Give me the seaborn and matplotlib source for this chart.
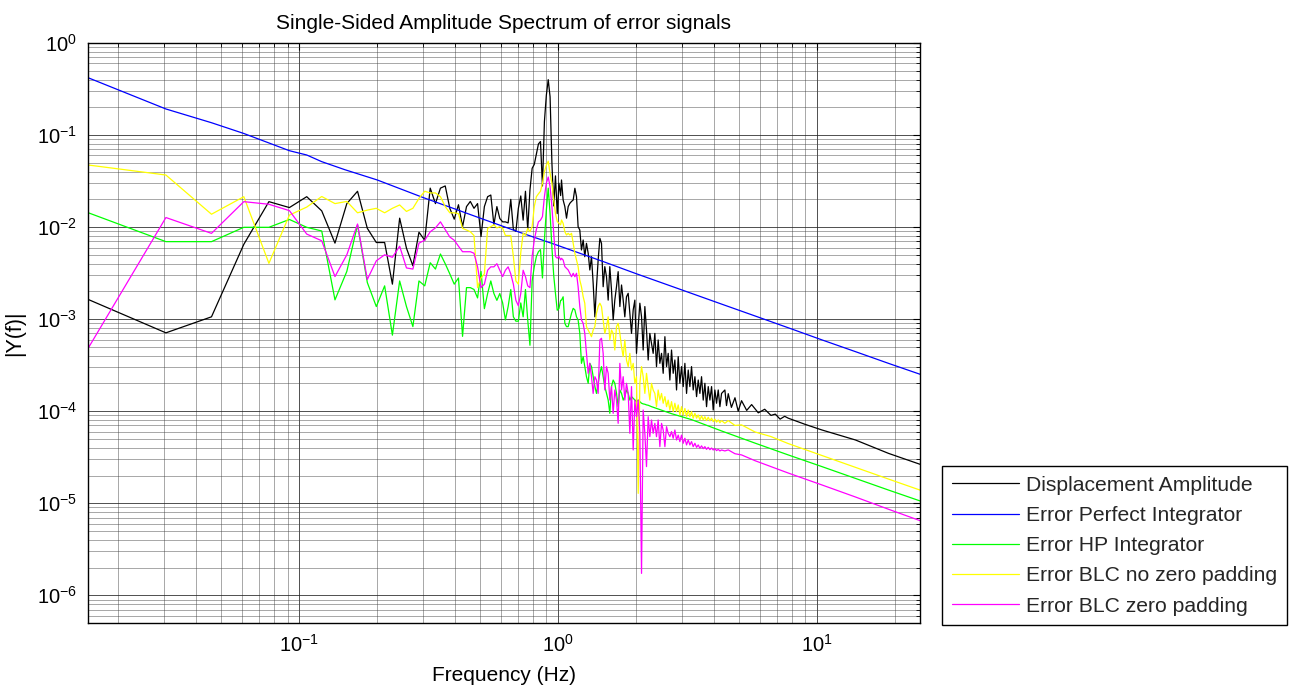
import numpy as np
import pandas as pd
import matplotlib
matplotlib.use("Agg")
import matplotlib.pyplot as plt
from matplotlib.ticker import FixedLocator, NullFormatter
import seaborn as sns

# ---------------- data ----------------
df_hz = 0.015253                      # frequency resolution (Hz)
bins_low = np.arange(1, 68)           # first FFT bins, drawn one by one

series_names = ["Displacement Amplitude", "Error Perfect Integrator",
                "Error HP Integrator", "Error BLC no zero padding",
                "Error BLC zero padding"]
series_colors = ["#000000", "#0000ff", "#00ff00", "#ffff00", "#ff00ff"]

x_major_ticks = [0.1, 1.0, 10.0]
y_major_ticks = [1e-6, 1e-5, 1e-4, 1e-3, 1e-2, 1e-1, 1.0]

# dense middle band (Hz)
freq_mid = [1.030, 1.045, 1.061, 1.077, 1.093, 1.109, 1.126, 1.143, 1.160, 1.177,
            1.194, 1.212, 1.230, 1.249, 1.267, 1.286, 1.306, 1.325, 1.345, 1.365,
            1.386, 1.406, 1.427, 1.449, 1.470, 1.492, 1.514, 1.537, 1.560, 1.583,
            1.607, 1.631, 1.655, 1.680, 1.705, 1.731, 1.757, 1.783, 1.809, 1.836,
            1.864, 1.892, 1.920, 1.949, 1.978, 2.007, 2.038, 2.068, 2.099, 2.130,
            2.162, 2.194, 2.227, 2.260, 2.294, 2.328, 2.363, 2.398, 2.434, 2.471,
            2.508, 2.545, 2.584, 2.622, 2.661, 2.701, 2.741, 2.782, 2.824, 2.866,
            2.909, 2.952, 2.996, 3.041, 3.087, 3.133, 3.180, 3.227, 3.275, 3.324,
            3.375, 3.425, 3.476, 3.528, 3.580, 3.634, 3.688, 3.743, 3.800, 3.856,
            3.914, 3.972, 4.031, 4.091, 4.153, 4.215, 4.278]

# Displacement Amplitude
disp_low = [1.64e-3, 7.1e-4, 1.06e-3, 6.5e-3, 1.89e-2, 1.63e-2, 2.14e-2, 1.5e-2, 6.7e-3, 1.8e-2,
            2.45e-2, 9.7e-3, 6.8e-3, 6.8e-3, 2.4e-3, 1.25e-2, 5.9e-3, 3.8e-3, 8.8e-3, 7.2e-3,
            2.65e-2, 1.8e-2, 2.65e-2, 2.8e-2, 1.6e-2, 1.22e-2, 1.75e-2, 1.01e-2, 1.67e-2, 1.9e-2,
            1.6e-2, 1.8e-2, 7.9e-3, 1.67e-2, 2.14e-2, 2.23e-2, 1.06e-2, 1.67e-2, 1.24e-2, 1.14e-2,
            1.14e-2, 1.11e-2, 2.0e-2, 9.4e-3, 9.0e-3, 1.6e-2, 2.18e-2, 1.19e-2, 2.45e-2, 9.4e-3,
            2.53e-2, 4.35e-2, 4.8e-2, 6.2e-2, 8.0e-2, 8.5e-2, 2.8e-2, 1.4e-1, 2.7e-1, 4.0e-1,
            2.6e-1, 5.0e-2, 1.7e-2, 3.6e-2, 1.4e-2, 3.0e-2, 2.2e-2]
disp_mid = [0.0325, 0.0197, 0.0167, 0.0125, 0.0167, 0.0181, 0.019, 0.0197, 0.0264, 0.0214,
            0.0101, 0.0093, 0.00564, 0.00724, 0.00477, 0.00666, 0.00519, 0.00342, 0.00477, 0.00245,
            0.00106, 0.00225, 0.00439, 0.00755, 0.00666, 0.00225, 0.00372, 0.00289, 0.00161, 0.00372,
            0.00207, 0.00098, 0.00161, 0.00225, 0.00328, 0.00137, 0.00235, 0.00161, 0.00106, 0.00175,
            0.00191, 0.00116, 0.00070, 0.00126, 0.00161, 0.000425, 0.000829, 0.00149, 0.00106, 0.000462,
            0.00137, 0.000762, 0.00036, 0.00070, 0.000546, 0.000425, 0.00070, 0.000305, 0.000594, 0.000331,
            0.000425, 0.000258, 0.000645, 0.000305, 0.000425, 0.000218, 0.000462, 0.000258, 0.00036, 0.00017,
            0.000391, 0.000201, 0.000305, 0.000185, 0.000331, 0.000156, 0.00028, 0.000185, 0.000305, 0.00017,
            0.000237, 0.000144, 0.000218, 0.000156, 0.000237, 0.000132, 0.000201, 0.000112, 0.000185, 0.000132,
            0.000185, 0.000103, 0.00017, 0.000122, 0.00017, 0.000112, 0.000156]
disp_tail_f = [4.406, 4.470, 4.540, 4.67, 4.82, 4.96, 5.11, 5.35, 5.59, 5.93, 6.28,
               6.64, 6.9, 7.2, 7.5, 7.74, 8.99, 10.45, 14.07, 18.9, 25.0]
disp_tail = [1.70e-4, 1.15e-4, 1.55e-4, 1.10e-4, 1.40e-4, 1.00e-4, 1.30e-4, 1.02e-4, 1.18e-4,
             9.6e-5, 1.05e-4, 9.0e-5, 9.3e-5, 8.2e-5, 8.8e-5, 8.4e-5, 7.2e-5, 6.25e-5,
             4.87e-5, 3.48e-5, 2.65e-5]

# Error Perfect Integrator
perf_f = [0.01525, 0.0305, 0.0458, 0.0610, 0.0763, 0.0915, 0.1068, 0.1220, 0.15, 0.2,
          0.3, 0.4, 0.5, 0.7, 1.0, 1.5, 2.0, 3.0, 4.27, 6.0, 8.0, 10.45, 14.0, 19.0, 25.0]
perf_v = [0.42, 0.192, 0.136, 0.104, 0.082, 0.0676, 0.0607, 0.0514, 0.042, 0.0325,
          0.021, 0.0157, 0.0125, 0.0089, 0.0063, 0.0042, 0.00312, 0.00208, 0.00146, 0.00104,
          0.00078, 0.000595, 0.000446, 0.000329, 0.000252]

# Error HP Integrator
hp_low = [0.01435, 0.00695, 0.00695, 0.00995, 0.00995, 0.0121, 0.00995, 0.00907, 0.00162, 0.0033,
          0.0106, 0.0025, 0.00137, 0.0023, 0.00067, 0.0026, 0.00137, 0.00083, 0.0026, 0.0023,
          0.0041, 0.0035, 0.0051, 0.0040, 0.0031, 0.0024, 0.0028, 0.00065, 0.0022, 0.0022,
          0.0021, 0.0017, 0.0033, 0.0013, 0.0019, 0.0026, 0.0019, 0.0016, 0.0019, 0.0015,
          0.00098, 0.00137, 0.0021, 0.00106, 0.00095, 0.00095, 0.0015, 0.00106, 0.0021, 0.00098,
          0.00052, 0.0026, 0.0037, 0.0048, 0.0054, 0.0057, 0.0028, 0.0072, 0.0153, 0.0265,
          0.0141, 0.0060, 0.0030, 0.0019, 0.00125, 0.0013, 0.0016]
hp_mid = [0.00161, 0.00175, 0.000901, 0.000829, 0.000829, 0.000979, 0.00116, 0.00131, 0.00126, 0.00106,
          0.000979, 0.00070, 0.000331, 0.000391, 0.000305, 0.000237, 0.000201, 0.000331, 0.000305, 0.000237,
          0.000185, 0.000156, 0.000201, 0.000258, 0.000305, 0.000237, 0.000185, 0.000156, 0.000132, 9.48e-5,
          0.000185, 0.000218, 0.000201, 0.000156, 0.000112, 0.00017, 0.000156, 0.000132, 0.000144, 0.00017,
          0.000156, 0.000132, 0.000144, 0.000138, 0.000132, 0.000127, 0.000132, 0.000127, 0.000122, 0.00012,
          0.000119, 0.000117, 0.000116, 0.000114, 0.000112]
hp_tail_f = [2.741, 3.275, 4.278, 5.76, 7.74, 10.45, 14.07, 18.9, 25.0]
hp_tail = [9.4e-5, 8.1e-5, 6.1e-5, 4.5e-5, 3.35e-5, 2.5e-5, 1.86e-5, 1.39e-5, 1.06e-5]

# Error BLC no zero padding
blc_low = [0.0473, 0.0368, 0.0138, 0.0214, 0.00404, 0.0135, 0.0165, 0.0215, 0.018, 0.019,
           0.0143, 0.0153, 0.016, 0.0143, 0.016, 0.0174, 0.0148, 0.016, 0.0205, 0.0245,
           0.0235, 0.0235, 0.0214, 0.0167, 0.0143, 0.0143, 0.014, 0.0097, 0.0093, 0.0089,
           0.0081, 0.0022, 0.0028, 0.0031, 0.0097, 0.0101, 0.0106, 0.0098, 0.0101, 0.0097,
           0.0081, 0.0081, 0.0081, 0.0048, 0.0026, 0.0024, 0.0053, 0.0086, 0.0081, 0.0097,
           0.0089, 0.0101, 0.0167, 0.0214, 0.023, 0.0245, 0.030, 0.040, 0.047, 0.052,
           0.0384, 0.030, 0.0197, 0.0141, 0.0115, 0.011, 0.0106]
blc_mid = [0.01195, 0.01099, 0.0089, 0.0082, 0.00856, 0.0082, 0.00856, 0.00666, 0.00519, 0.00439,
           0.00372, 0.00266, 0.00225, 0.00175, 0.00149, 0.000829, 0.000762, 0.00070, 0.000645, 0.000762,
           0.000829, 0.00116, 0.00137, 0.00149, 0.00137, 0.000979, 0.00070, 0.000829, 0.00106, 0.000594,
           0.000762, 0.00070, 0.000462, 0.000829, 0.000901, 0.00070, 0.000502, 0.000391, 0.000594, 0.00036,
           0.000305, 0.000425, 0.00028, 0.000331, 0.000201, 0.000237, 1.28e-5, 0.000201, 0.000305, 0.000237,
           0.000156, 0.000258, 0.000185, 0.000132, 0.000201, 0.00017, 0.000156, 0.000112, 0.00017, 0.000132,
           0.000156, 0.000122, 0.000144, 0.000112, 0.000132, 0.000103, 0.000127, 9.9e-5, 0.000122, 9.9e-5,
           0.000117, 9.1e-5, 0.000112, 9.1e-5, 0.000107, 8.72e-5, 0.000103, 8.72e-5, 9.9e-5, 8.4e-5,
           9.48e-5, 8.4e-5, 9.1e-5, 8.03e-5, 8.9e-5, 8.03e-5, 8.72e-5, 7.9e-5, 8.6e-5, 7.85e-5,
           8.4e-5, 7.7e-5, 8.2e-5, 7.6e-5, 8.03e-5, 7.5e-5, 7.9e-5]
blc_tail_f = [4.406, 4.54, 4.82, 5.11, 5.76, 6.64, 7.74, 10.45, 14.07, 18.9, 25.0]
blc_tail = [7.4e-5, 7.9e-5, 7.0e-5, 7.1e-5, 5.95e-5, 5.3e-5, 4.45e-5, 3.3e-5, 2.45e-5, 1.83e-5, 1.39e-5]

# Error BLC zero padding
blz_low = [4.8e-4, 0.0127, 0.00855, 0.0189, 0.0177, 0.0151, 0.0084, 0.0071, 0.0029, 0.0050,
           0.0108, 0.0027, 0.0043, 0.0050, 0.0047, 0.0062, 0.0036, 0.0035, 0.0067, 0.0072,
           0.0089, 0.0098, 0.0114, 0.0094, 0.0078, 0.0072, 0.0062, 0.0054, 0.0054, 0.0054,
           0.0052, 0.0037, 0.0022, 0.0024, 0.0034, 0.0037, 0.0037, 0.0040, 0.0034, 0.0029,
           0.0034, 0.0037, 0.0031, 0.0024, 0.0016, 0.0014, 0.0019, 0.0034, 0.0029, 0.0023,
           0.0022, 0.0048, 0.0072, 0.0094, 0.0114, 0.0119, 0.0130, 0.0214, 0.030, 0.035,
           0.0275, 0.0167, 0.0086, 0.0048, 0.0046, 0.0048, 0.0044]
blz_mid = [0.00458, 0.00439, 0.00372, 0.00357, 0.00342, 0.00315, 0.00289, 0.00315, 0.00289, 0.00315,
           0.00225, 0.00137, 0.000979, 0.000901, 0.00070, 0.000425, 0.000258, 0.000331, 0.000237, 0.000156,
           0.000237, 0.000218, 0.000156, 0.000594, 0.00062, 0.000425, 0.00017, 0.000305, 0.000258, 0.000132,
           0.000185, 9.48e-5, 0.00017, 0.000132, 7.38e-5, 0.000331, 0.00017, 0.000237, 0.000132, 0.000201,
           0.000156, 5.75e-5, 0.000185, 3.79e-5, 0.000132, 8.72e-5, 0.000132, 5.75e-5, 1.73e-6, 0.000103,
           5.75e-5, 2.5e-5, 8.72e-5, 5.29e-5, 8.03e-5, 5.75e-5, 7.38e-5, 5.29e-5, 8.03e-5, 4.12e-5,
           7.38e-5, 6.25e-5, 4.12e-5, 6.79e-5, 5.75e-5, 5.29e-5, 6.0e-5, 5.08e-5, 6.25e-5, 4.87e-5,
           5.5e-5, 4.67e-5, 5.5e-5, 4.48e-5, 5.08e-5, 4.3e-5, 4.87e-5, 4.3e-5, 4.67e-5, 4.12e-5,
           4.48e-5, 4.05e-5, 4.3e-5, 3.95e-5, 4.2e-5, 3.92e-5, 4.12e-5, 3.85e-5, 4.05e-5, 3.82e-5,
           3.98e-5, 3.79e-5, 3.92e-5, 3.73e-5, 3.85e-5, 3.7e-5, 3.79e-5]
blz_tail_f = [4.406, 4.54, 4.82, 5.11, 5.76, 7.74, 10.45, 14.07, 18.9, 25.0]
blz_tail = [3.7e-5, 3.8e-5, 3.45e-5, 3.35e-5, 2.9e-5, 2.13e-5, 1.58e-5, 1.17e-5, 8.6e-6, 6.47e-6]

# ---------------- assemble long-form table ----------------
freq_low = list(bins_low * df_hz)
parts = [
    (series_names[0], freq_low + freq_mid + disp_tail_f, disp_low + disp_mid + disp_tail),
    (series_names[1], perf_f, perf_v),
    (series_names[2], freq_low + freq_mid[:len(hp_mid)] + hp_tail_f, hp_low + hp_mid + hp_tail),
    (series_names[3], freq_low + freq_mid + blc_tail_f, blc_low + blc_mid + blc_tail),
    (series_names[4], freq_low + freq_mid + blz_tail_f, blz_low + blz_mid + blz_tail),
]
data = pd.concat([pd.DataFrame({"freq": f, "amp": v, "series": n}) for n, f, v in parts],
                 ignore_index=True)

# ---------------- style ----------------
sns.set_theme(style="white")
plt.rcParams["font.family"] = ["Liberation Sans", "DejaVu Sans"]
plt.rcParams["mathtext.fontset"] = "custom"
plt.rcParams["mathtext.rm"] = "Liberation Sans"
plt.rcParams["mathtext.it"] = "Liberation Sans"
plt.rcParams["mathtext.default"] = "regular"
plt.rcParams["axes.unicode_minus"] = False

W, H = 1293, 692
fig = plt.figure(figsize=(W / 100, H / 100), dpi=100)
fig.patch.set_facecolor("white")
ax = fig.add_axes([88 / W, 1 - 623 / H, (920 - 88) / W, (623 - 43) / H])
ax.set_facecolor("white")
ax.set_xscale("log")
ax.set_yscale("log")

sns.lineplot(data=data, x="freq", y="amp", hue="series", hue_order=series_names,
             palette=dict(zip(series_names, series_colors)), estimator=None,
             sort=True, linewidth=0.9, ax=ax)

xlo, xhi = freq_low[0], 25.0
ylo, yhi = 5e-7, 1.0
ax.set_xlim(xlo, xhi)
ax.set_ylim(ylo, yhi)

x_minor = [m * 10.0 ** e for e in range(-2, 2) for m in range(2, 10) if xlo <= m * 10.0 ** e <= xhi]
y_minor = [m * 10.0 ** e for e in range(-7, 0) for m in range(2, 10) if ylo <= m * 10.0 ** e <= yhi]
ax.xaxis.set_major_locator(FixedLocator(x_major_ticks))
ax.yaxis.set_major_locator(FixedLocator(y_major_ticks))
ax.xaxis.set_minor_locator(FixedLocator(x_minor))
ax.yaxis.set_minor_locator(FixedLocator(y_minor))
ax.xaxis.set_minor_formatter(NullFormatter())
ax.yaxis.set_minor_formatter(NullFormatter())

ax.grid(True, which="major", color="#222222", linewidth=0.7, alpha=0.8)
ax.grid(True, which="minor", color="#444444", linewidth=0.6, alpha=0.55)
ax.set_axisbelow(True)

ax.tick_params(which="both", direction="in", top=True, right=True, colors="black",
               labelsize=14.5)
ax.tick_params(which="major", length=5, width=0.8, pad=8)
ax.tick_params(which="minor", length=3, width=0.6)
for sp in ax.spines.values():
    sp.set_color("black")
    sp.set_linewidth(1.0)

ax.set_title("Single-Sided Amplitude Spectrum of error signals", fontsize=15,
             color="black", pad=10)
ax.set_xlabel("Frequency (Hz)", fontsize=15, color="black", labelpad=7)
ax.set_ylabel("|Y(f)|", fontsize=15.5, color="black", labelpad=8)

handles, labels = ax.get_legend_handles_labels()
leg = ax.legend(handles, labels, loc="lower left",
                bbox_to_anchor=(942 / W, 1 - 625 / H, 345 / W, 159 / H),
                bbox_transform=fig.transFigure, mode="expand", borderaxespad=0,
                frameon=True, fancybox=False, edgecolor="black", facecolor="white",
                framealpha=1, fontsize=15.2, handlelength=3.2, handletextpad=0.35,
                labelspacing=0.53, borderpad=0.45)
leg.get_frame().set_linewidth(1.0)
for ln in leg.get_lines():
    ln.set_linewidth(0.9)

fig.savefig("out.png", dpi=100)
